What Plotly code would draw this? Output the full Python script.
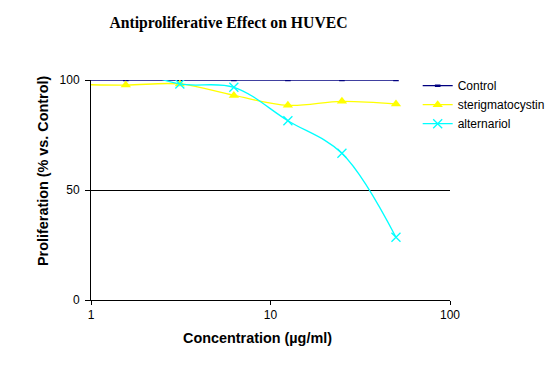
import plotly.graph_objects as go

# Data
conc_ctrl = [0.78125, 1.5625, 3.125, 6.25, 12.5, 25, 50]
control = [100, 100, 100, 100, 100, 100, 100]
conc_ster = [0.78125, 1.5625, 3.125, 6.25, 12.5, 25, 50]
sterigmatocystin = [98.0, 97.7, 98.2, 93.0, 88.5, 90.3, 89.1]
conc_alt = [1.5625, 3.125, 6.25, 12.5, 25, 50]
alternariol = [106.0, 98.2, 96.7, 81.5, 66.7, 28.5]
y_ticks = [0, 50, 100]
x_ticks = [1, 10, 100]

fig = go.Figure()
fig.add_trace(go.Scatter(
    x=conc_ctrl, y=control, name="Control", mode="lines+markers",
    line=dict(color="#000080", width=1.3),
    marker=dict(symbol="line-ew", size=4, line=dict(color="#000080", width=2.5)),
))
fig.add_trace(go.Scatter(
    x=conc_ster, y=sterigmatocystin, name="sterigmatocystin", mode="lines+markers",
    line=dict(color="#FFFF00", width=1.3, shape="spline", smoothing=1),
    marker=dict(symbol="triangle-up", size=9, color="#FFFF00"),
))
fig.add_trace(go.Scatter(
    x=conc_alt, y=alternariol, name="alternariol", mode="lines+markers",
    line=dict(color="#00FFFF", width=1.3, shape="spline", smoothing=1),
    marker=dict(symbol="x-thin", size=9, line=dict(color="#00FFFF", width=1.3)),
))

fig.update_layout(
    width=559, height=366,
    margin=dict(l=91, r=109, t=80, b=66, autoexpand=False),
    paper_bgcolor="white", plot_bgcolor="white",
    font=dict(family="Liberation Sans, Arial, sans-serif", size=12, color="black"),
    title=dict(text="<b>Antiproliferative Effect on HUVEC</b>",
               font=dict(family="Liberation Serif, Times New Roman, serif", size=15.7, color="black"),
               x=228.5 / 559, xref="container", xanchor="center",
               y=1 - 23 / 366, yref="container", yanchor="middle"),
    xaxis=dict(type="log", range=[0, 2], tickvals=x_ticks, ticktext=[str(v) for v in x_ticks],
               showgrid=False, showline=True, linecolor="black", linewidth=1,
               ticks="outside", ticklen=4, tickcolor="black", zeroline=False),
    yaxis=dict(range=[0, 100], tickvals=y_ticks, showgrid=False, showline=True,
               linecolor="black", linewidth=1, ticks="outside", ticklen=5,
               tickcolor="black", zeroline=False, ticklabelstandoff=3,
               minor=dict(tickmode="array", tickvals=[50], showgrid=True,
                          gridcolor="black", gridwidth=1, ticks="")),
    legend=dict(x=0.91, y=1.04, xanchor="left", yanchor="top",
                bgcolor="rgba(0,0,0,0)", font=dict(size=12), tracegroupgap=0,
                itemwidth=30),
    showlegend=True,
)

fig.add_annotation(text="<b>Concentration (µg/ml)</b>", xref="paper", yref="paper",
                   x=(257 - 91) / 359, y=-(338 - 300) / 220, xanchor="center", yanchor="middle",
                   showarrow=False, font=dict(size=14.4))
fig.add_annotation(text="<b>Proliferation (% vs. Control)</b>", xref="paper", yref="paper",
                   x=(43 - 91) / 359, y=(300 - 171) / 220, xanchor="center", yanchor="middle",
                   textangle=-90, showarrow=False, font=dict(size=14.4))

fig.write_html("out.html", config={"displayModeBar": False},
               post_script="document.body.style.margin='0';")
